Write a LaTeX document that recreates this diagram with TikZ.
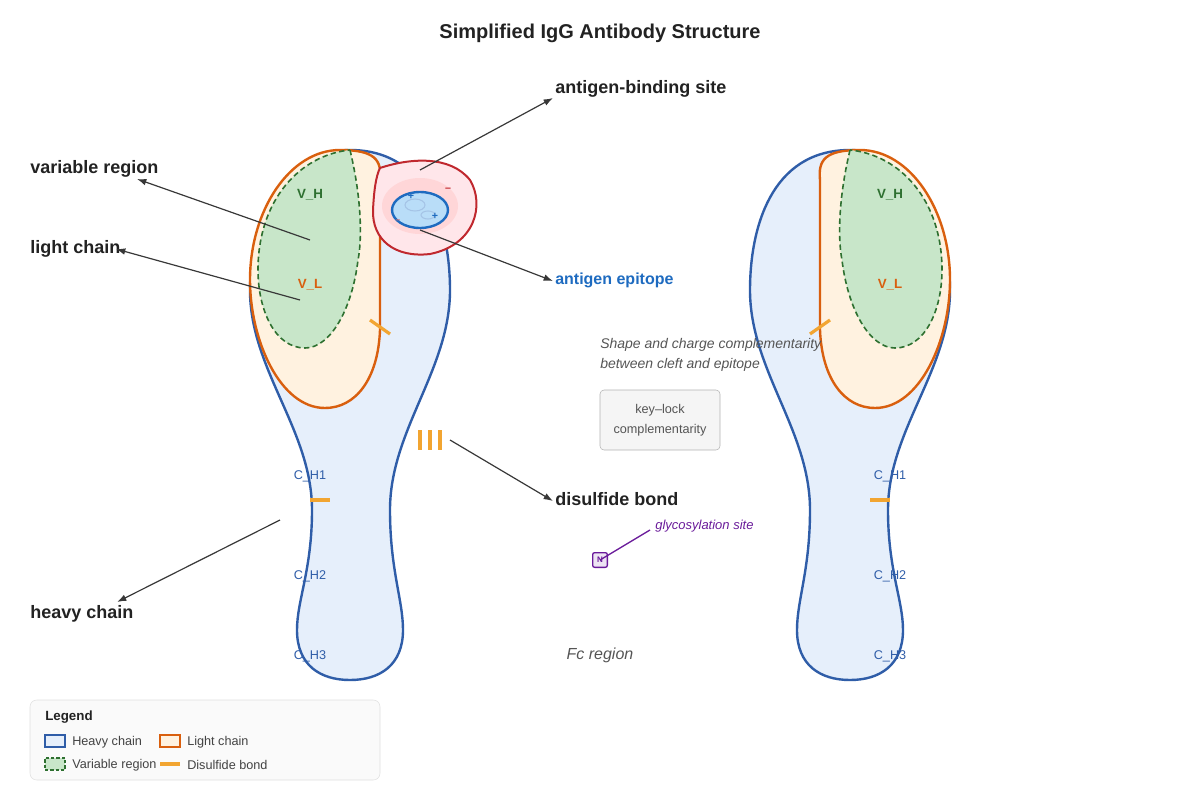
\documentclass[tikz,border=0pt]{standalone}
\usepackage{fontspec}
\setmainfont{Liberation Sans}
\usetikzlibrary{arrows.meta}
\definecolor{hblue}{HTML}{2F5DA8}
\definecolor{hfill}{HTML}{E6EFFB}
\definecolor{lor}{HTML}{D95F0E}
\definecolor{lfill}{HTML}{FFF2E0}
\definecolor{vgr}{HTML}{2E7030}
\definecolor{vfill}{HTML}{C8E6C9}
\definecolor{ssor}{HTML}{F2A531}
\definecolor{agred}{HTML}{C0282E}
\definecolor{agfill}{HTML}{FFE6EA}
\definecolor{epblue}{HTML}{1E6BC0}
\definecolor{epfill}{HTML}{B9DDF8}
\definecolor{purp}{HTML}{6A1B9A}
\definecolor{txt}{HTML}{222222}
\definecolor{gtxt}{HTML}{555555}
\begin{document}
\begin{tikzpicture}[x=0.75pt,y=-0.75pt,
  heavy/.style={draw=hblue,fill=hfill,line width=1.8pt},
  light/.style={draw=lor,fill=lfill,line width=1.8pt},
  var/.style={draw=vgr,fill=vfill,line width=1.2pt,dash pattern=on 4pt off 2.5pt},
  ss/.style={draw=ssor,line width=2.4pt},
  ptr/.style={draw=txt!90,line width=0.9pt,-{Latex[length=7pt,width=5pt]}},
  big/.style={font=\fontsize{13.5}{16}\selectfont\bfseries,text=txt,anchor=west,inner sep=0},
  dom/.style={font=\fontsize{9.5}{11}\selectfont,text=hblue},
  vlab/.style={font=\fontsize{10}{12}\selectfont\bfseries}]
\useasboundingbox (0,0) rectangle (1200,800);
\node[font=\fontsize{15}{18}\selectfont\bfseries,text=txt] (title) at (600,33) {Simplified IgG Antibody Structure};
% two antibody arms
\foreach \s/\sh in {1/0,-1/1200}{
\begin{scope}[xscale=\s,xshift=\sh*0.75pt*\s]
\path[heavy] (350,150) .. controls (430,150) and (450,230) .. (450,290) .. controls (450,370) and (390,430) .. (390,510) .. controls (390,570) and (403,600) .. (403,630) .. controls (403,665) and (380,680) .. (350,680) .. controls (320,680) and (297,665) .. (297,630) .. controls (297,600) and (312,570) .. (312,510) .. controls (312,430) and (250,370) .. (250,290) .. controls (250,220) and (290,150) .. (350,150) -- cycle;
\path[light] (340,150) .. controls (375,150) and (382,160) .. (380,180) -- (380,330) .. controls (378,380) and (355,408) .. (325,408) .. controls (280,408) and (250,340) .. (250,280) .. controls (250,210) and (290,150) .. (340,150) -- cycle;
\path[var] (350,150) .. controls (362,200) and (362,240) .. (358,260) .. controls (352,310) and (330,348) .. (305,348) .. controls (275,348) and (258,310) .. (258,270) .. controls (258,200) and (300,155) .. (350,150) -- cycle;
\draw[ss] (370,320) -- (390,334);
\draw[ss] (310,500) -- (330,500);
\end{scope}}
\foreach \x/\n in {310/a,890/b}{
\node[vlab,text=vgr] (vh\n) at (\x,195) {V\_H};
\node[vlab,text=lor] (vl\n) at (\x,285) {V\_L};
\node[dom] (ch1\n) at (\x,476) {C\_H1};
\node[dom] (ch2\n) at (\x,576) {C\_H2};
\node[dom] (ch3\n) at (\x,656) {C\_H3};}
% antigen
\path[draw=agred,fill=agfill,line width=1.5pt] (380,168) .. controls (410,158) and (450,155) .. (470,180) .. controls (485,205) and (475,245) .. (430,254) .. controls (395,258) and (372,240) .. (373,210) .. controls (374,190) and (376,176) .. (380,168) -- cycle;
\fill[red!20,opacity=0.6] (420,206) ellipse [x radius=38, y radius=28];
\path[draw=epblue,fill=epfill,line width=1.8pt] (420,210) ellipse [x radius=28, y radius=18];
\draw[epblue!40,line width=0.8pt] (415,205) ellipse [x radius=10, y radius=6] (428,215) ellipse [x radius=7, y radius=4];
\node[font=\fontsize{8}{9}\selectfont\bfseries,text=epblue] (p1) at (411,196) {+};
\node[font=\fontsize{8}{9}\selectfont\bfseries,text=epblue] (p2) at (435,216) {+};
\node[font=\fontsize{8}{9}\selectfont\bfseries,text=agred] (m1) at (448,190) {–};
\node[font=\fontsize{6}{9}\selectfont\bfseries,text=agred!70] (m2) at (398,221) {–};
\coordinate (ag) at (420,170);
\coordinate (ep) at (420,230);
% triple disulfide
\foreach \x in {420,430,440}{\draw[ss] (\x,430) -- (\x,450);}
\coordinate (tri) at (450,440);
\coordinate (vr) at (310,240);
\coordinate (lc) at (300,300);
\coordinate (hc) at (280,520);
% labels
\node[big] (lab1) at (555,89) {antigen-binding site};
\node[big] (lab2) at (30,169) {variable region};
\node[big] (lab3) at (30,249) {light chain};
\node[big,text=epblue,font=\fontsize{12}{14}\selectfont\bfseries] (lab4) at (555,280) {antigen epitope};
\node[big] (lab5) at (555,499) {disulfide bond};
\node[big] (lab6) at (30,614) {heavy chain};
\draw[ptr] (ag) -- (553,98) coordinate (e1);
\draw[ptr] (vr) -- (137,179);
\draw[ptr] (lc) -- (116,249);
\draw[ptr] (ep) -- (553,281);
\draw[ptr] (tri) -- (553,501);
\draw[ptr] (hc) -- (117,602);
% glycosylation
\node[draw=purp,fill=purp!12,line width=1pt,rounded corners=1.5pt,minimum size=11pt,inner sep=0,font=\fontsize{6}{7}\selectfont\bfseries,text=purp] (N) at (600,560) {N};
\node[anchor=west,inner sep=0,font=\fontsize{9.75}{12}\selectfont\itshape,text=purp] (gly) at (655,526) {glycosylation site};
\draw[purp,line width=1pt] (650,530) -- (N.center);
% notes
\node[anchor=west,inner sep=0,align=left,font=\fontsize{10.5}{15}\selectfont\itshape,text=gtxt] (note) at (600,355) {Shape and charge complementarity\\between cleft and epitope};
\node[draw=gray!60,fill=gray!8,rounded corners=3pt,minimum width=90pt,minimum height=45pt,align=center,font=\fontsize{9.5}{15}\selectfont,text=gtxt] (key) at (660,420) {key–lock\\complementarity};
\node[font=\fontsize{12}{14}\selectfont\itshape,text=gtxt] (fc) at (600,655) {Fc region};
% legend
\node[draw=gray!25,fill=gray!4,rounded corners=5pt,minimum width=262.5pt,minimum height=60pt] (leg) at (205,740) {};
\node[anchor=west,inner sep=0,font=\fontsize{10}{12}\selectfont\bfseries,text=txt] (legt) at (45,717) {Legend};
\node[draw=hblue,fill=hfill,line width=1pt,minimum width=15pt,minimum height=9pt,inner sep=0] (s1) at (55,741) {};
\node[anchor=west,inner sep=0,font=\fontsize{9.5}{11}\selectfont,text=txt!85] (t1) at (72,742) {Heavy chain};
\node[draw=lor,fill=lfill,line width=1pt,minimum width=15pt,minimum height=9pt,inner sep=0] (s2) at (170,741) {};
\node[anchor=west,inner sep=0,font=\fontsize{9.5}{11}\selectfont,text=txt!85] (t2) at (187,742) {Light chain};
\node[draw=vgr,fill=vfill,line width=1pt,dash pattern=on 2.5pt off 1.5pt,minimum width=15pt,minimum height=9pt,inner sep=0] (s3) at (55,764) {};
\node[anchor=west,inner sep=0,font=\fontsize{9.5}{11}\selectfont,text=txt!85] (t3) at (72,765) {Variable region};
\coordinate (d1) at (160,764); \coordinate (d2) at (180,764);
\draw[ss,line width=3pt] (d1) -- (d2);
\node[anchor=west,inner sep=0,font=\fontsize{9.5}{11}\selectfont,text=txt!85] (t4) at (187,765) {Disulfide bond};
\end{tikzpicture}
\end{document}
